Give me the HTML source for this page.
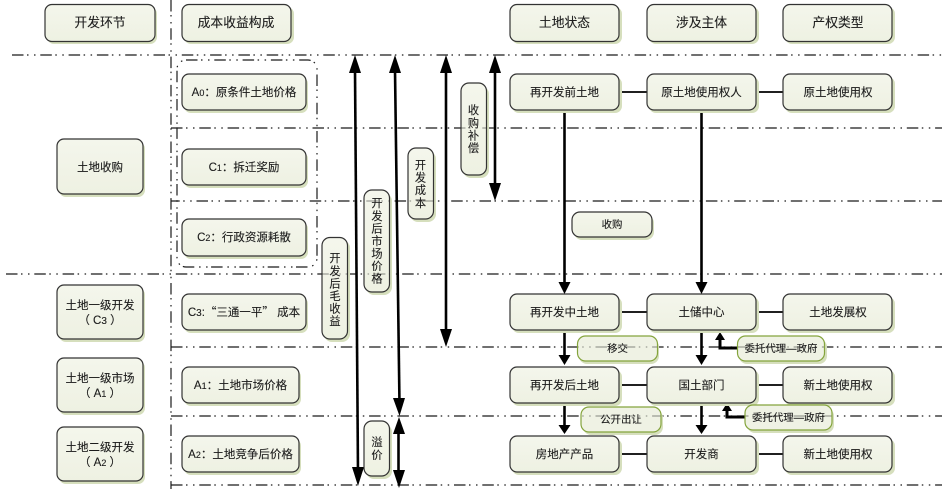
<!DOCTYPE html>
<html><head><meta charset="utf-8"><style>
html,body{margin:0;padding:0;background:#fff;width:942px;height:489px;overflow:hidden}
svg{display:block}
text{font-family:"Liberation Sans","Noto Sans CJK SC",sans-serif;font-size:11.5px;fill:#1c1c1c;stroke:#1c1c1c;stroke-width:.12;text-anchor:middle}
.h{font-size:12.8px}
.s{font-size:10.4px}
.v{font-size:11.2px}
.dd{stroke:#1a1a1a;stroke-width:1.2;fill:none;stroke-dasharray:11.5 3.5 1.5 5.5 1.5 4.8}
.l{stroke:#000;stroke-width:1.7;fill:none}
.a{stroke:#000;stroke-width:2.6;fill:none}
.c{font-family:"Noto Sans CJK SC",sans-serif}
</style></head><body>
<svg width="942" height="489" viewBox="0 0 942 489" xmlns="http://www.w3.org/2000/svg">
<defs>
<linearGradient id="g" x1="0" y1="0" x2="0" y2="1"><stop offset="0" stop-color="#f4f6ec"/><stop offset="1" stop-color="#eef1e2"/></linearGradient>
<clipPath id="thru">
<rect x="577.500" y="336" width="80" height="25" rx="8"/><rect x="737.500" y="336" width="87" height="25" rx="8"/>
<rect x="581" y="407" width="80" height="25" rx="8"/><rect x="745" y="405" width="87" height="25" rx="8"/>
<rect x="322" y="237.500" width="25.500" height="101.500" rx="8"/><rect x="364" y="190" width="25.500" height="102" rx="8"/><rect x="408" y="148" width="25.500" height="71" rx="8"/><rect x="461" y="83" width="25.500" height="92" rx="8"/><rect x="364" y="421" width="25.500" height="55" rx="8"/>
</clipPath>
</defs>

<!-- grid lines -->
<path class="dd" d="M171 0V489"/>
<path class="dd" d="M12 55H942"/>
<path class="dd" d="M171 128H942"/>
<path class="dd" d="M171 201H942" stroke-dashoffset="2.800"/>
<path class="dd" d="M6 274H942"/>
<path class="dd" d="M171 347H942"/>
<path class="dd" d="M171 416H942"/>
<path class="dd" d="M171 485H942"/>
<rect x="177" y="60" width="140" height="207" rx="9" class="dd" stroke-width="1.100"/>

<!-- connectors -->
<g class="l">
<path d="M619 92H647M756 92H783M619 312H647M756 312H783M619 385H647M756 385H783M619 454H647M756 454H783"/>
</g>
<g class="a">
<path d="M355 70L358 474"/>
<path d="M395 70L399.500 405"/>
<path d="M446 70V336"/>
<path d="M495 70V190"/>
<path d="M398.500 428V476"/>
<path d="M564.500 110V284"/>
<path d="M701.500 110V284"/>
<path d="M564.500 330V357"/>
<path d="M701.500 330V357"/>
<path d="M564.500 403V426"/>
<path d="M701.500 403V426"/>
<path d="M738 348H720V338" stroke-width="3"/>
<path d="M746 417H727V409" stroke-width="3"/>
</g>
<g fill="#000">
<path d="M349 73L355 55L361 73Z"/>
<path d="M352 467H364L358 486Z"/>
<path d="M389 73L395 55L401 73Z"/>
<path d="M393 398H405L399.500 416Z"/>
<path d="M440 73L446 55L452 73Z"/>
<path d="M440 329H452L446 347Z"/>
<path d="M489 73L495 55L501 73Z"/>
<path d="M489 183H501L495 201Z"/>
<path d="M393 434L399 417L405 434Z"/>
<path d="M393 470H405L399 488Z"/>
<path d="M558.500 282H570.500L564.500 294Z"/>
<path d="M695.500 282H707.500L701.500 294Z"/>
<path d="M558.500 355H570.500L564.500 365Z"/>
<path d="M695.500 355H707.500L701.500 365Z"/>
<path d="M558.500 425H570.500L564.500 434Z"/>
<path d="M695.500 425H707.500L701.500 434Z"/>
<path d="M715 340L720 332L725 340Z"/>
<path d="M722 411L727 403L732 411Z"/>
</g>

<!-- shadows -->
<g fill="#d6dfbd">
<rect x="47" y="7" width="110" height="37" rx="7"/><rect x="184" y="7" width="110" height="37" rx="7"/>
<rect x="512" y="7" width="110" height="37" rx="7"/><rect x="649" y="7" width="110" height="37" rx="7"/><rect x="785" y="7" width="110" height="37" rx="7"/>
<rect x="59" y="142" width="86" height="55" rx="7"/><rect x="59" y="288" width="86" height="54" rx="7"/><rect x="59" y="361" width="86" height="54" rx="7"/><rect x="59" y="430" width="86" height="54" rx="7"/>
<rect x="184" y="77" width="124" height="36" rx="7"/><rect x="184" y="152" width="124" height="36" rx="7"/><rect x="184" y="222" width="124" height="37" rx="7"/><rect x="184" y="297" width="124" height="36" rx="7"/><rect x="184" y="370" width="117" height="36" rx="7"/><rect x="184" y="439" width="117" height="36" rx="7"/>
<rect x="512" y="77" width="110" height="36" rx="7"/><rect x="649" y="77" width="110" height="36" rx="7"/><rect x="785" y="77" width="110" height="36" rx="7"/>
<rect x="512" y="297" width="110" height="36" rx="7"/><rect x="649" y="297" width="110" height="36" rx="7"/><rect x="785" y="297" width="110" height="36" rx="7"/>
<rect x="512" y="370" width="110" height="36" rx="7"/><rect x="649" y="370" width="110" height="36" rx="7"/><rect x="785" y="370" width="110" height="36" rx="7"/>
<rect x="512" y="439" width="110" height="36" rx="7"/><rect x="649" y="439" width="110" height="36" rx="7"/><rect x="785" y="439" width="110" height="36" rx="7"/>
<rect x="324" y="240" width="26" height="102" rx="8"/><rect x="366" y="193" width="26" height="102" rx="8"/><rect x="410" y="151" width="26" height="71" rx="8"/><rect x="463" y="86" width="26" height="92" rx="8"/><rect x="366" y="424" width="26" height="55" rx="8"/>
<rect x="574" y="215" width="80" height="25" rx="8"/>
<rect x="579" y="339" width="80" height="25" rx="8"/><rect x="739" y="339" width="88" height="25" rx="8"/>
<rect x="583" y="410" width="80" height="25" rx="8"/><rect x="747" y="408" width="87" height="25" rx="8"/>
</g>
<!-- bodies -->
<g fill="url(#g)" stroke="#333" stroke-width="1.200">
<rect x="45" y="4.500" width="110" height="37" rx="7"/><rect x="182" y="4.500" width="109" height="37" rx="7"/>
<rect x="510" y="4.500" width="109" height="37" rx="7"/><rect x="647" y="4.500" width="109" height="37" rx="7"/><rect x="783" y="4.500" width="109" height="37" rx="7"/>
<rect x="57" y="139" width="86" height="55" rx="7"/><rect x="57" y="285" width="86" height="54" rx="7"/><rect x="57" y="358" width="86" height="54" rx="7"/><rect x="57" y="427" width="86" height="54" rx="7"/>
<rect x="182" y="74" width="124" height="36" rx="7"/><rect x="182" y="149" width="124" height="36" rx="7"/><rect x="182" y="219" width="124" height="37" rx="7"/><rect x="182" y="294" width="124" height="36" rx="7"/><rect x="182" y="367" width="117" height="36" rx="7"/><rect x="182" y="436" width="117" height="36" rx="7"/>
<rect x="510" y="74" width="109" height="36" rx="7"/><rect x="647" y="74" width="109" height="36" rx="7"/><rect x="783" y="74" width="109" height="36" rx="7"/>
<rect x="510" y="294" width="109" height="36" rx="7"/><rect x="647" y="294" width="109" height="36" rx="7"/><rect x="783" y="294" width="109" height="36" rx="7"/>
<rect x="510" y="367" width="109" height="36" rx="7"/><rect x="647" y="367" width="109" height="36" rx="7"/><rect x="783" y="367" width="109" height="36" rx="7"/>
<rect x="510" y="436" width="109" height="36" rx="7"/><rect x="647" y="436" width="109" height="36" rx="7"/><rect x="783" y="436" width="109" height="36" rx="7"/>
<rect x="322" y="237.500" width="25.500" height="101.500" rx="8"/><rect x="364" y="190" width="25.500" height="102" rx="8"/><rect x="408" y="148" width="25.500" height="71" rx="8"/><rect x="461" y="83" width="25.500" height="92" rx="8"/><rect x="364" y="421" width="25.500" height="55" rx="8"/>
<rect x="572" y="212" width="80" height="25" rx="8"/>
</g>
<g fill="#eff2e4" stroke="none">
<rect x="577.500" y="336" width="80" height="25" rx="8"/><rect x="737.500" y="336" width="87" height="25" rx="8"/>
<rect x="581" y="407" width="80" height="25" rx="8"/><rect x="745" y="405" width="87" height="25" rx="8"/>
</g>
<!-- grid lines showing through translucent labels -->
<g clip-path="url(#thru)" opacity="0.400">
<path class="dd" d="M171 128H942"/>
<path class="dd" d="M171 201H942" stroke-dashoffset="2.800"/>
<path class="dd" d="M6 274H942"/>
<path class="dd" d="M171 347H942"/>
<path class="dd" d="M171 416H942"/>
</g>
<g fill="none" stroke="#84a43c" stroke-width="1.200">
<rect x="577.500" y="336" width="80" height="25" rx="8"/><rect x="737.500" y="336" width="87" height="25" rx="8"/>
<rect x="581" y="407" width="80" height="25" rx="8"/><rect x="745" y="405" width="87" height="25" rx="8"/>
</g>

<!-- text -->
<text class="h" x="100" y="27">开发环节</text>
<text class="h" x="236" y="27">成本收益构成</text>
<text class="h" x="564.500" y="27">土地状态</text>
<text class="h" x="701.500" y="27">涉及主体</text>
<text class="h" x="838" y="27">产权类型</text>
<text x="100" y="171">土地收购</text>
<text x="100" y="309">土地一级开发</text><text x="100" y="324">（ C<tspan font-size="10">3</tspan> ）</text>
<text x="100" y="382">土地一级市场</text><text x="100" y="397">（ A<tspan font-size="9">1</tspan> ）</text>
<text x="100" y="451">土地二级开发</text><text x="100" y="466">（ A<tspan font-size="9">2</tspan> ）</text>
<text x="244" y="96">A<tspan font-size="9">0</tspan>：原条件土地价格</text>
<text x="244" y="171">C<tspan font-size="9">1</tspan>：拆迁奖励</text>
<text x="244" y="241">C<tspan font-size="9">2</tspan>：行政资源耗散</text>
<text x="244" y="316">C<tspan font-size="10">3</tspan>:<tspan class="c">“三通一平”</tspan> 成本</text>
<text x="240.500" y="389">A<tspan font-size="9">1</tspan>：土地市场价格</text>
<text x="240.500" y="458">A<tspan font-size="9">2</tspan>：土地竞争后价格</text>
<text x="564.500" y="96">再开发前土地</text><text x="701.500" y="96">原土地使用权人</text><text x="838" y="96">原土地使用权</text>
<text x="564.500" y="316">再开发中土地</text><text x="701.500" y="316">土储中心</text><text x="838" y="316">土地发展权</text>
<text x="564.500" y="389">再开发后土地</text><text x="701.500" y="389">国土部门</text><text x="838" y="389">新土地使用权</text>
<text x="564.500" y="458">房地产产品</text><text x="701.500" y="458">开发商</text><text x="838" y="458">新土地使用权</text>
<text class="s" x="612" y="228">收购</text>
<text class="s" x="617.500" y="352">移交</text>
<text class="s" x="781" y="352">委托代理—政府</text>
<text class="s" x="621" y="423">公开出让</text>
<text class="s" x="788.500" y="421">委托代理—政府</text>
<g class="vg">
<text class="v" x="335" y="262">开</text><text class="v" x="335" y="275">发</text><text class="v" x="335" y="287.500">后</text><text class="v" x="335" y="300">毛</text><text class="v" x="335" y="312.500">收</text><text class="v" x="335" y="325">益</text>
<text class="v" x="377" y="207">开</text><text class="v" x="377" y="220">发</text><text class="v" x="377" y="232.500">后</text><text class="v" x="377" y="245">市</text><text class="v" x="377" y="257.500">场</text><text class="v" x="377" y="270">价</text><text class="v" x="377" y="282.500">格</text>
<text class="v" x="420.500" y="169">开</text><text class="v" x="420.500" y="181.500">发</text><text class="v" x="420.500" y="194">成</text><text class="v" x="420.500" y="207">本</text>
<text class="v" x="473.500" y="114">收</text><text class="v" x="473.500" y="127">购</text><text class="v" x="473.500" y="139.500">补</text><text class="v" x="473.500" y="152">偿</text>
<text class="v" x="377" y="446">溢</text><text class="v" x="377" y="459">价</text>
</g>
</svg>
</body></html>
